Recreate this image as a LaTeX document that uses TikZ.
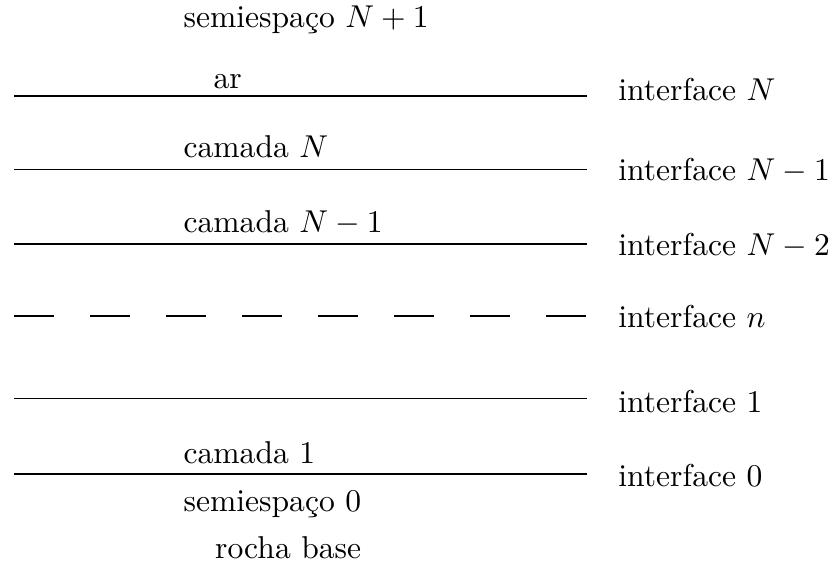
\documentclass[tikz,border=0pt]{standalone}
\usepackage{amsmath,amssymb}
\usepackage{tikz}
\usetikzlibrary{positioning, calc}

\begin{document}
\begin{tikzpicture}[
    iface/.style={line width=0.5pt},
    ifacedash/.style={line width=0.5pt, dash pattern=on 12.66pt off 11.39pt},
    lab/.style={inner sep=0pt, anchor=base west}
  ]
  \useasboundingbox (0,0) rectangle (9.277,6.307);
  % ends of the interfaces
  \coordinate (IN-l) at (0.156,5.238);   \coordinate (IN-r) at (6.527,5.238);
  \coordinate (IN1-l) at (0.156,4.420);  \coordinate (IN1-r) at (6.527,4.420);
  \coordinate (IN2-l) at (0.156,3.592);  \coordinate (IN2-r) at (6.527,3.592);
  \coordinate (In-l) at (0.156,2.791);   \coordinate (In-r) at (6.527,2.791);
  \coordinate (I1-l) at (0.156,1.874);   \coordinate (I1-r) at (6.527,1.874);
  \coordinate (I0-l) at (0.156,1.034);   \coordinate (I0-r) at (6.527,1.034);
  \foreach \p in {IN,IN1,IN2,I1,I0}{\draw[iface] (\p-l) -- (\p-r);}
  \draw[ifacedash] (In-l) -- (In-r);
  % media
  \node[lab] (semiN) at (2.035,6.005) {semiespaço $N+1$};
  \node[lab] (ar) at (2.369,5.327) {ar};
  \node[lab] (camN) at (2.035,4.559) {camada $N$};
  \node[lab] (camN1) at (2.035,3.725) {camada $N-1$};
  \node[lab] (cam1) at (2.035,1.156) {camada 1};
  \node[lab] (semi0) at (2.035,0.612) {semiespaço 0};
  \node[lab, anchor=base east] (rocha) at (semi0.base east |- 0,0.100) {rocha base};
  % interfaces
  \node[lab] (labN) at (6.872,5.193) {interface $N$};
  \node[lab] (labN1) at (6.872,4.303) {interface $N-1$};
  \node[lab] (labN2) at (6.872,3.469) {interface $N-2$};
  \node[lab] (labn) at (6.872,2.669) {interface $n$};
  \node[lab] (lab1) at (6.872,1.724) {interface 1};
  \node[lab] (lab0) at (6.872,0.890) {interface 0};
\end{tikzpicture}
\end{document}
